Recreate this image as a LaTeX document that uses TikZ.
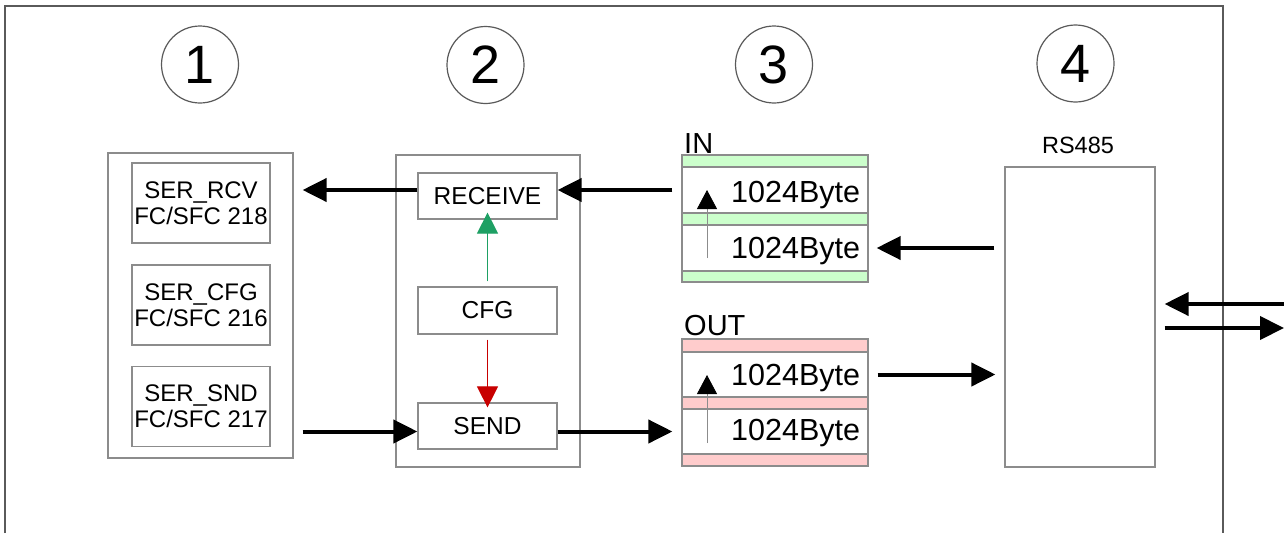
\documentclass[tikz,border=0pt]{standalone}
\usepackage{fontspec}
\setmainfont{Liberation Sans}
\usetikzlibrary{arrows.meta}
\definecolor{boxgray}{RGB}{140,140,140}
\definecolor{framegray}{RGB}{90,90,90}
\definecolor{ingreen}{RGB}{204,255,204}
\definecolor{outpink}{RGB}{255,204,204}
\definecolor{cfggreen}{RGB}{30,160,100}
\definecolor{cfgred}{RGB}{200,0,0}
\begin{document}
\begin{tikzpicture}[x=1pt,y=-1pt,
  box/.style={draw=boxgray, line width=1.2pt, inner sep=0pt, fill=white},
  fcbox/.style={box, minimum width=138pt, minimum height=80pt, align=center, font=\fontsize{24}{26}\selectfont},
  blkbox/.style={box, minimum width=139pt, minimum height=46pt, font=\fontsize{24.5}{26}\selectfont},
  rowbox/.style={box, minimum width=186pt, minimum height=46pt},
  stripe/.style={draw=boxgray, line width=1.2pt},
  num/.style={circle, draw=framegray, line width=1.2pt, minimum size=77pt, inner sep=0pt, font=\fontsize{54}{54}\selectfont},
  bytetext/.style={anchor=base west, inner sep=0pt, font=\fontsize{30.5}{30.5}\selectfont},
  lbltext/.style={anchor=base west, inner sep=0pt, font=\fontsize{29}{29}\selectfont},
  bigarrow/.style={line width=4pt, -{Triangle[length=24pt,width=23pt]}},
  cfgarrow/.style={line width=1pt, -{Triangle[length=21pt,width=21pt]}},
  smallarrow/.style={draw=boxgray, line width=0.8pt, -{Triangle[length=19pt,width=20pt,color=black]}}
]
\useasboundingbox (0,0) rectangle (1284,533);
% outer frame
\draw[framegray, line width=1.5pt] (5,533) -- (5,6) -- (1223,6) -- (1223,533);

% circles
\node[num] (n1) at (200,64.5) {1};
\node[num] (n2) at (485.5,65) {2};
\node[num] (n3) at (774,64.5) {3};
\node[num] (n4) at (1075.5,63.5) {4};

% block 1
\node[box, minimum width=185pt, minimum height=305pt] (blk1) at (200.5,305.5) {};
\node[fcbox] (rcv) at (201,203) {SER\_RCV\\FC/SFC 218};
\node[fcbox] (cfg) at (201,305) {SER\_CFG\\FC/SFC 216};
\node[fcbox] (snd) at (201,406.5) {SER\_SND\\FC/SFC 217};

% block 2
\node[box, minimum width=184pt, minimum height=312pt] (blk2) at (488,311) {};
\node[blkbox] (receive) at (487.5,196) {RECEIVE};
\node[blkbox, minimum height=47pt] (cfgb) at (487.5,310.5) {CFG};
\node[blkbox] (send) at (487.5,426) {SEND};

% block 3 IN
\node[lbltext] (inlbl) at (684,153) {IN};
\draw[stripe, fill=ingreen] (682,155) rectangle (868,167);
\node[rowbox] (inrow1) at (775,190) {};
\draw[stripe, fill=ingreen] (682,213) rectangle (868,225);
\node[rowbox] (inrow2) at (775,248) {};
\draw[stripe, fill=ingreen] (682,271) rectangle (868,282);
\node[bytetext] (inb1) at (731,202) {1024Byte};
\node[bytetext] (inb2) at (731,258) {1024Byte};
\coordinate (ia0) at (707,258);
\coordinate (ia1) at (707,190);
\draw[smallarrow] (ia0) -- (ia1);

% block 3 OUT
\node[lbltext] (outlbl) at (684,335) {OUT};
\draw[stripe, fill=outpink] (682,339) rectangle (868,352);
\node[rowbox, minimum height=45pt] (outrow1) at (775,374.5) {};
\draw[stripe, fill=outpink] (682,397) rectangle (868,409);
\node[rowbox, minimum height=45pt] (outrow2) at (775,431.5) {};
\draw[stripe, fill=outpink] (682,454) rectangle (868,466);
\node[bytetext] (outb1) at (731,385) {1024Byte};
\node[bytetext] (outb2) at (731,440) {1024Byte};
\coordinate (oa0) at (707,443);
\coordinate (oa1) at (707,375);
\draw[smallarrow] (oa0) -- (oa1);

% block 4
\node[anchor=base, inner sep=0pt, font=\fontsize{23.5}{23.5}\selectfont] (rslbl) at (1078,153) {RS485};
\node[box, minimum width=150pt, minimum height=300pt] (rs) at (1080,317) {};

% connectors
\draw[bigarrow, shorten >=32pt] (receive.west |- inrow1) -- (rcv.east |- inrow1);
\draw[bigarrow, shorten <=9pt] (inrow1.west) -- (receive.east |- inrow1);
\draw[bigarrow, shorten <=32pt] (snd.east |- outrow2) -- (send.west |- outrow2);
\draw[bigarrow, shorten >=9pt] (send.east |- outrow2) -- (outrow2.west);
\draw[bigarrow, shorten <=10pt, shorten >=8pt] (rs.west |- inrow2) -- (inrow2.east);
\draw[bigarrow, shorten <=9pt, shorten >=9pt] (outrow1.east) -- (rs.west |- outrow1);
\draw[cfggreen, cfgarrow, shorten <=5pt, shorten >=-7pt] (cfgb.north) -- (receive.south);
\draw[cfgred, cfgarrow, shorten <=5pt, shorten >=-5pt] (cfgb.south) -- (send.north);
\coordinate (extL) at (1284,304);
\coordinate (extR) at (1284,328);
\draw[bigarrow, shorten >=9pt] (extL) -- ([yshift=13pt]rs.east);
\draw[bigarrow, shorten <=9pt] ([yshift=-11pt]rs.east) -- (extR);
\end{tikzpicture}
\end{document}
